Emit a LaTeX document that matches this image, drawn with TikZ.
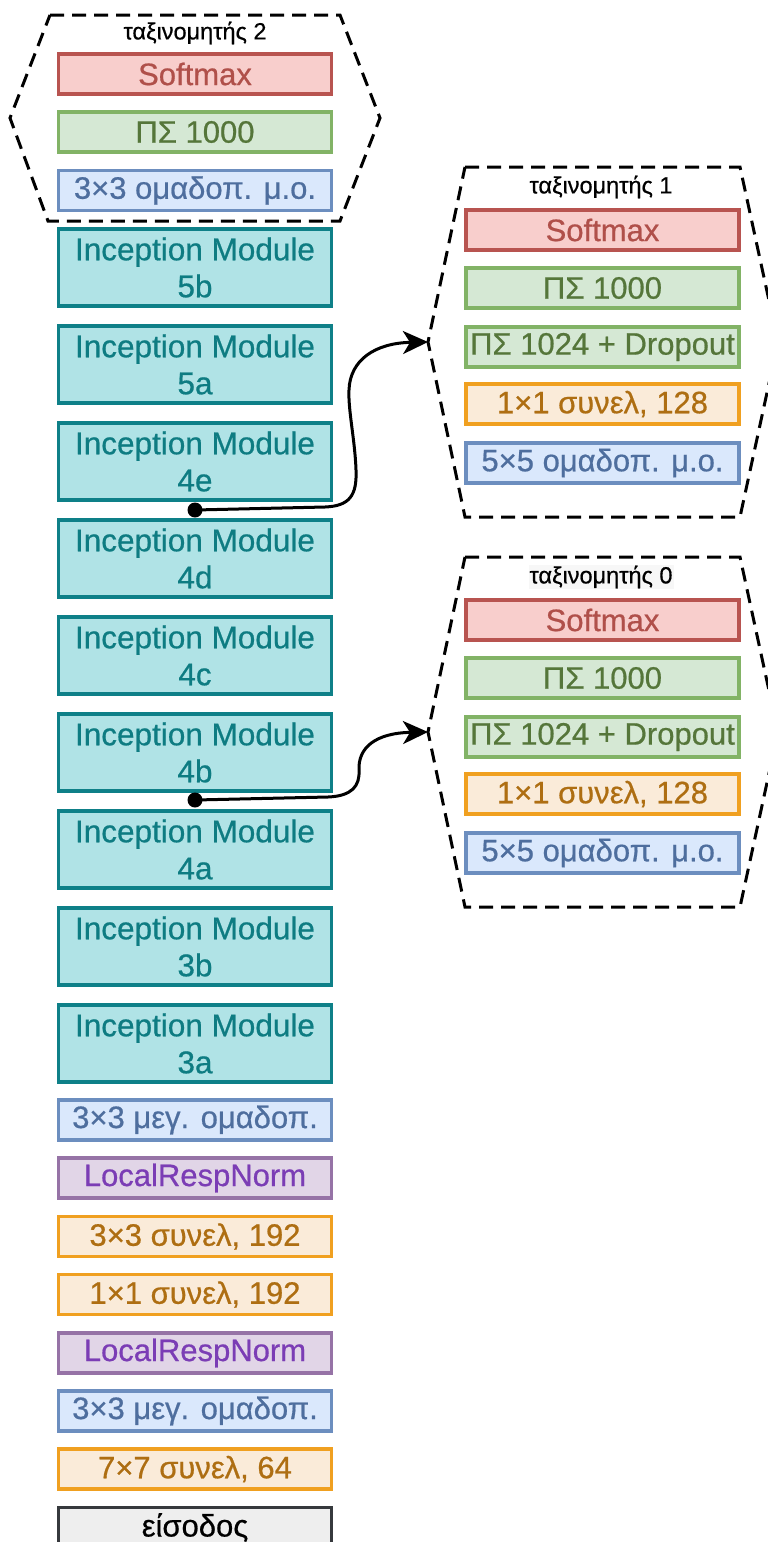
\documentclass[tikz,border=0pt]{standalone}
\usepackage{fontspec}
\setmainfont{Liberation Sans}
% slightly heavier face for the layer labels
\newfontfamily\labelfont{Liberation Sans}[FakeBold=0.6]
\usetikzlibrary{arrows.meta}

% layer colours
\definecolor{redfill}{HTML}{F8CECC}\definecolor{redline}{HTML}{B85450}\definecolor{redtext}{HTML}{B0504A}
\definecolor{grnfill}{HTML}{D5E8D4}\definecolor{grnline}{HTML}{82B366}\definecolor{grntext}{HTML}{55763A}
\definecolor{blufill}{HTML}{DAE8FC}\definecolor{bluline}{HTML}{6C8EBF}\definecolor{blutext}{HTML}{4E6E9E}
\definecolor{orgfill}{HTML}{FAEBD9}\definecolor{orgline}{HTML}{F0A020}\definecolor{orgtext}{HTML}{AE6E12}
\definecolor{purfill}{HTML}{E1D5E7}\definecolor{purline}{HTML}{9673A6}\definecolor{purtext}{HTML}{7B3DB5}
\definecolor{tealfill}{HTML}{B0E3E6}\definecolor{tealline}{HTML}{0E8088}\definecolor{tealtext}{HTML}{0E7C82}
\definecolor{grayfill}{HTML}{EEEEEE}\definecolor{grayline}{HTML}{36393D}

\begin{document}
\begin{tikzpicture}[x=1pt,y=-1pt,
  layer/.style={draw, line width=3.2pt, inner sep=0pt, minimum width=273pt, minimum height=40pt,
    align=center, font=\labelfont\fontsize{31}{36}\selectfont},
  softmax/.style={layer, fill=redfill, draw=redline, text=redtext},
  fc/.style={layer, fill=grnfill, draw=grnline, text=grntext},
  pool/.style={layer, fill=blufill, draw=bluline, text=blutext},
  conv/.style={layer, fill=orgfill, draw=orgline, text=orgtext},
  lrn/.style={layer, fill=purfill, draw=purline, text=purtext},
  inception/.style={layer, minimum height=77pt, fill=tealfill, draw=tealline, text=tealtext,
    font=\labelfont\fontsize{31.5}{37}\selectfont,
    execute at begin node={\rule{0pt}{28pt}}},
  inputbox/.style={layer, fill=grayfill, draw=grayline, text=black},
  headframe/.style={draw=black, line width=3pt, dash pattern=on 14pt off 8pt},
  headtitle/.style={font=\labelfont\fontsize{23.5}{26}\selectfont, inner sep=1pt},
  tap/.style={line width=3pt, -{Stealth[length=25pt,width=23pt,inset=7pt]}},
]
\clip (0,0) rectangle (768,1542);

% ---- auxiliary head 2 (top of the main column) ----
\draw[headframe] (50,15) -- (340,15) -- (380,118) -- (340,221) -- (48,221) -- (10,118) -- cycle;
\node[headtitle] (t2) at (195,33) {ταξινομητής 2};
\node[softmax] (s2) at (195,74)  {Softmax};
\node[fc]      (f2) at (195,132) {ΠΣ 1000};
\node[pool]    (p2) at (195,190.5) {3×3 ομαδοπ. μ.ο.};

% ---- main column ----
\node[inception] (m5b) at (195,267.5) {Inception Module\\5b};
\node[inception] (m5a) at (195,364.5) {Inception Module\\5a};
\node[inception] (m4e) at (195,461.5) {Inception Module\\4e};
\node[inception] (m4d) at (195,558.5) {Inception Module\\4d};
\node[inception] (m4c) at (195,655.5) {Inception Module\\4c};
\node[inception] (m4b) at (195,752.5) {Inception Module\\4b};
\node[inception] (m4a) at (195,849.5) {Inception Module\\4a};
\node[inception] (m3b) at (195,946.5) {Inception Module\\3b};
\node[inception] (m3a) at (195,1043.5) {Inception Module\\3a};

\node[pool] (mp2)  at (195,1120)   {3×3 μεγ. ομαδοπ.};
\node[lrn]  (lrn2) at (195,1178)   {LocalRespNorm};
\node[conv] (c3)   at (195,1236.5) {3×3 συνελ, 192};
\node[conv] (c2)   at (195,1294.5) {1×1 συνελ, 192};
\node[lrn]  (lrn1) at (195,1353)   {LocalRespNorm};
\node[pool] (mp1)  at (195,1411)   {3×3 μεγ. ομαδοπ.};
\node[conv] (c1)   at (195,1469)   {7×7 συνελ, 64};
\node[inputbox] (in) at (195,1527.5) {είσοδος};

% ---- auxiliary head 1 ----
\draw[headframe] (465,167) -- (740,167) -- (778,342) -- (740,517) -- (465,517) -- (428,342) -- cycle;
\coordinate (h1in) at (428,342);
\node[headtitle] (t1) at (601,187) {ταξινομητής 1};
\node[softmax] (s1) at (602.5,230) {Softmax};
\node[fc]      (f1) at (602.5,288) {ΠΣ 1000};
\node[fc]      (g1) at (602.5,347) {ΠΣ 1024 + Dropout};
\node[conv]    (k1) at (602.5,404) {1×1 συνελ, 128};
\node[pool]    (p1) at (602.5,463) {5×5 ομαδοπ. μ.ο.};

% ---- auxiliary head 0 ----
\draw[headframe] (465,557) -- (740,557) -- (778,732) -- (740,907) -- (465,907) -- (428,732) -- cycle;
\coordinate (h0in) at (428,732);
\node[headtitle, fill=black!3] (t0) at (601,577) {ταξινομητής 0};
\node[softmax] (s0) at (602.5,620) {Softmax};
\node[fc]      (f0) at (602.5,678) {ΠΣ 1000};
\node[fc]      (g0) at (602.5,737) {ΠΣ 1024 + Dropout};
\node[conv]    (k0) at (602.5,794) {1×1 συνελ, 128};
\node[pool]    (p0) at (602.5,853) {5×5 ομαδοπ. μ.ο.};

% ---- branch points feeding the auxiliary heads ----
\coordinate (tap1) at (195,510);
\coordinate (tap0) at (195,800);
\fill (tap1) circle (7.5pt);
\fill (tap0) circle (7.5pt);

\draw[tap] (tap1) -- (325,507) .. controls (350,506) and (357,495) .. (356,470)
  .. controls (355,440) and (348,410) .. (349,390) .. controls (350,360) and (375,343) .. (h1in);
\draw[tap] (tap0) -- (328,797) .. controls (352,796) and (360,786) .. (359,770)
  .. controls (358,748) and (375,733) .. (h0in);
\end{tikzpicture}
\end{document}
